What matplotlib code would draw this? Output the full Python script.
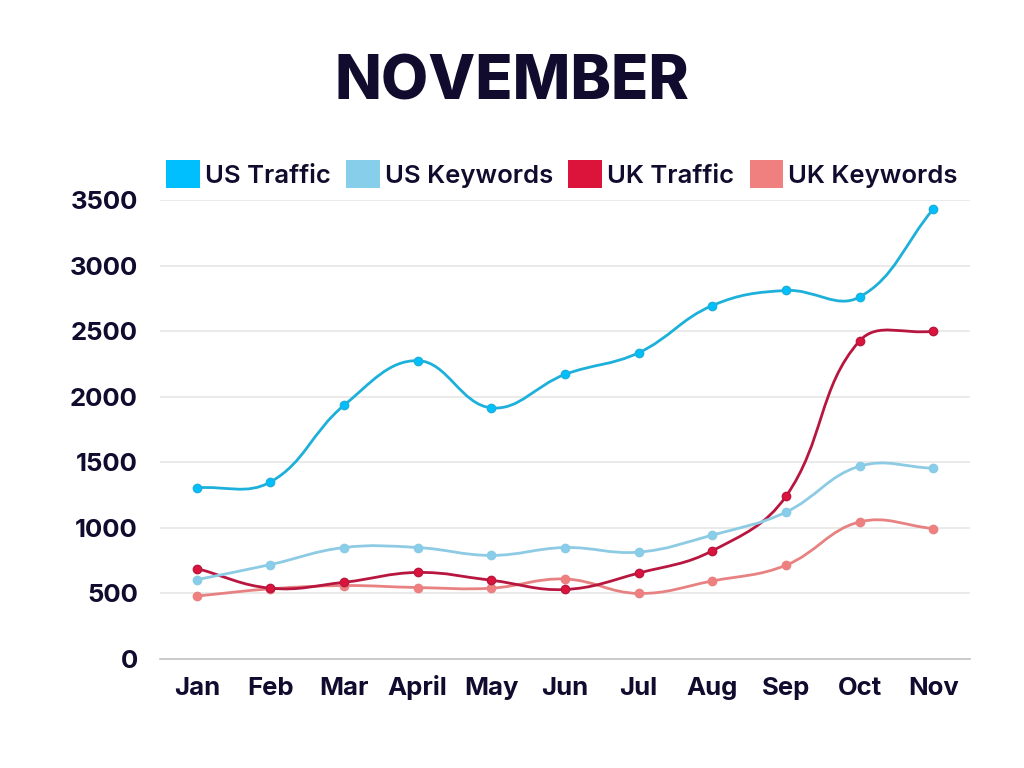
import numpy as np
import matplotlib
matplotlib.use("Agg")
import matplotlib.pyplot as plt
from matplotlib.path import Path
from matplotlib.patches import PathPatch, Patch

months = ['Jan', 'Feb', 'Mar', 'April', 'May', 'Jun', 'Jul', 'Aug', 'Sep', 'Oct', 'Nov']
us_traffic = [1305, 1350, 1935, 2275, 1915, 2170, 2335, 2695, 2810, 2760, 3430]
us_keywords = [605, 720, 850, 850, 790, 850, 815, 945, 1120, 1470, 1455]
uk_traffic = [690, 540, 585, 660, 600, 530, 655, 825, 1240, 2425, 2500]
uk_keywords = [480, 535, 560, 545, 540, 610, 500, 595, 715, 1045, 995]

series_names = ['US Traffic', 'US Keywords', 'UK Traffic', 'UK Keywords']
series_values = [us_traffic, us_keywords, uk_traffic, uk_keywords]
fill_colors = ['#00BFFF', '#87CEEB', '#DC143C', '#F08080']
line_colors = ['#1DB0DA', '#8CCBE3', '#B8163F', '#E88282']

text_color = '#110B2E'
plt.rcParams['font.family'] = ['Inter', 'DejaVu Sans']


def spline_path(ax, xs, ys, t=0.4):
    # same control points as a chart.js line with tension 0.4 (pixel space)
    pts = ax.transData.transform(np.column_stack([xs, ys]))
    n = len(pts)
    cp_prev, cp_next = [], []
    for i in range(n):
        prev = pts[max(i - 1, 0)]
        cur = pts[i]
        nxt = pts[min(i + 1, n - 1)]
        d01 = np.hypot(*(cur - prev))
        d12 = np.hypot(*(nxt - cur))
        tot = d01 + d12
        s01 = d01 / tot if tot else 0
        s12 = d12 / tot if tot else 0
        cp_prev.append(cur - t * s01 * (nxt - prev))
        cp_next.append(cur + t * s12 * (nxt - prev))
    verts = [pts[0]]
    codes = [Path.MOVETO]
    for i in range(1, n):
        verts += [cp_next[i - 1], cp_prev[i], pts[i]]
        codes += [Path.CURVE4] * 3
    verts = ax.transData.inverted().transform(np.array(verts))
    return Path(verts, codes)


fig = plt.figure(figsize=(10.24, 7.68), dpi=100)
ax = fig.add_axes([160 / 1024, 1 - 659 / 768, 810 / 1024, 459 / 768])
x = np.arange(len(months))
ax.set_xlim(-0.5, len(months) - 0.5)
ax.set_ylim(0, 3500)

for i in range(len(series_names) - 1, -1, -1):
    vals = series_values[i]
    path = spline_path(ax, x, vals)
    ax.add_patch(PathPatch(path, facecolor='none', edgecolor=line_colors[i],
                           lw=2.0, zorder=3 + (4 - i), clip_on=False))
    ax.plot(x, vals, 'o', ms=6, color=fill_colors[i], mec=line_colors[i],
            mew=1, zorder=3.5 + (4 - i), clip_on=False)

ax.set_yticks(range(0, 3501, 500))
ax.set_xticks(x)
ax.set_xticklabels(months)
ax.grid(axis='y', color='#E6E6E6', lw=1.2)
ax.set_axisbelow(True)
for s in ['top', 'right', 'left']:
    ax.spines[s].set_visible(False)
ax.spines['bottom'].set_color('#C4C4C4')
ax.spines['bottom'].set_linewidth(1.2)
ax.tick_params(length=0, labelsize=18.5, labelcolor=text_color)
ax.tick_params(axis='y', pad=16)
ax.tick_params(axis='x', pad=26)
for lab in ax.get_xticklabels():
    lab.set_verticalalignment('baseline')
for lab in ax.get_xticklabels() + ax.get_yticklabels():
    lab.set_fontweight('bold')

handles = [Patch(facecolor=c, edgecolor='none') for c in fill_colors]
fig.legend(handles, series_names, loc='center', bbox_to_anchor=(562 / 1024, 1 - 174 / 768),
           ncol=4, frameon=False, handlelength=1.3, handleheight=1.3,
           handletextpad=0.2, columnspacing=0.6, labelcolor=text_color,
           prop={'weight': 'semibold', 'size': 18.5})

fig.text(0.5, 1 - 99 / 768, 'NOVEMBER', ha='center', va='baseline',
         fontsize=44, fontweight='heavy', color=text_color)

fig.savefig('out.png', dpi=100, facecolor='white')
